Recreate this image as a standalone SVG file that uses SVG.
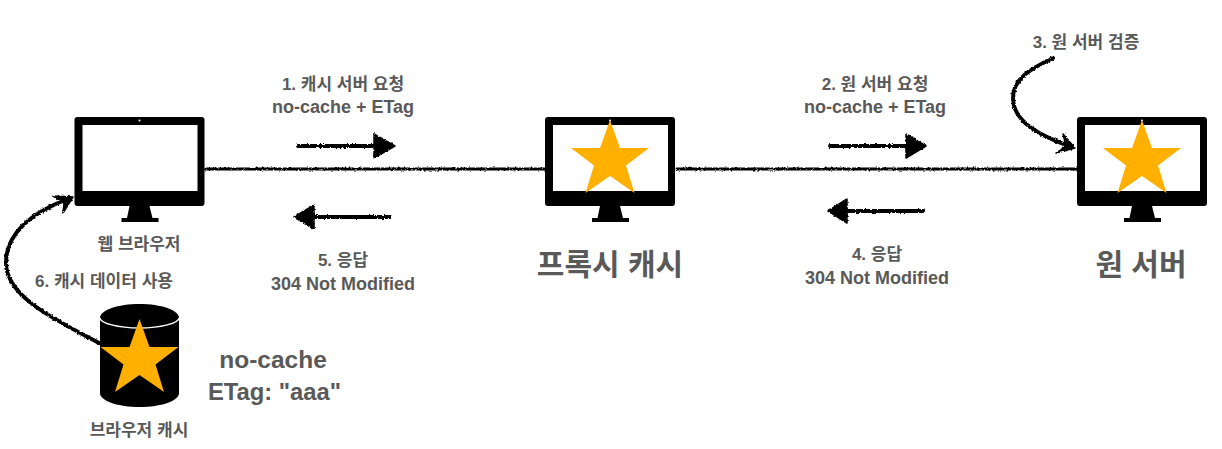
<svg xmlns="http://www.w3.org/2000/svg" width="1222" height="449" viewBox="0 0 1222 449">
<style>
text{font-family:"Liberation Sans","Noto Sans CJK KR",sans-serif;font-weight:700;fill:#595959;text-anchor:middle}
.s{font-size:17px}
.e{font-size:18px}
.m{font-size:24.500px}
.t{font-size:23.800px}
.l{font-size:30px}
.line{fill:none;stroke:#000;stroke-width:3;stroke-linecap:round;filter:url(#rough)}
.thick{stroke-width:4}
.head{fill:#000;stroke:#000;stroke-width:1.500;stroke-linejoin:round;filter:url(#rough)}
.star{fill:#ffb000}
</style>
<defs>
<filter id="rough" x="0" y="0" width="1222" height="449" filterUnits="userSpaceOnUse">
<feTurbulence type="fractalNoise" baseFrequency="0.45" numOctaves="2" seed="4"/>
<feDisplacementMap in="SourceGraphic" scale="3" xChannelSelector="R" yChannelSelector="G"/>
</filter>
<g id="monitor">
<rect x="0" y="0" width="130" height="89" rx="3" fill="#000"/>
<rect x="8" y="8" width="115" height="66" fill="#fff"/>
<circle cx="65" cy="3.600" r="1" fill="#fff"/>
<path d="M55 89H75L78 101H84V105H47V101H52.500Z" fill="#000"/>
</g>
<polygon id="star" class="star" points="0,0 10,28 39,28 16,45.500 24.500,73 0,56 -24.500,73 -16,45.500 -39,28 -10,28"/>
</defs>
<g id="connectors">
<path class="line" d="M206 169H545"/>
<path class="line" d="M677 169H1077"/>
<path class="line thick" d="M298 146H376"/>
<polygon class="head" points="374,134 395,146 374,158"/>
<path class="line thick" d="M390 217H312"/>
<polygon class="head" points="314,205 294,217 314,229"/>
<path class="line thick" d="M830 146H908"/>
<polygon class="head" points="906,134 926,146 906,158"/>
<path class="line thick" d="M923 211H845"/>
<polygon class="head" points="847,199 828,211 847,223"/>
<path class="line thick" d="M1053 58C1030 69 1013 79 1013 98C1013 122 1040 136 1072 147"/>
<path class="head" d="M1063 134L1075 148L1056 153L1066 146Z"/>
<path class="line thick" d="M101 344C60 322 6 298 6 263C6 230 38 210 70 198"/>
<path class="head" d="M53 196L73 197L63 213L64 203Z"/>
</g>
<g id="browser">
<use href="#monitor" x="74.500" y="117"/>
<text class="s" x="139" y="250">웹 브라우저</text>
</g>
<g id="proxy">
<use href="#monitor" x="545" y="117"/>
<use href="#star" x="610" y="120"/>
<text class="l" x="610" y="275">프록시 캐시</text>
</g>
<g id="origin">
<use href="#monitor" x="1077" y="117"/>
<use href="#star" x="1142" y="120"/>
<text class="l" x="1141" y="275">원 서버</text>
</g>
<g id="browser-cache">
<path d="M100 318C100 310 118 304 139.500 304C161 304 179 310 179 318V393C179 401 161 407 139.500 407C118 407 100 401 100 393Z" fill="#000"/>
<path d="M100 318C100 323 118 328 139.500 328C161 328 179 323 179 318" fill="none" stroke="#fff" stroke-width="1.500"/>
<use href="#star" x="139.500" y="319"/>
<text class="s" x="139" y="436">브라우저 캐시</text>
</g>
<g id="labels">
<text class="s" x="343" y="90">1. 캐시 서버 요청</text>
<text class="e" x="343" y="113">no-cache + ETag</text>
<text class="s" x="343" y="266">5. 응답</text>
<text class="e" x="343" y="290">304 Not Modified</text>
<text class="s" x="875" y="90">2. 원 서버 요청</text>
<text class="e" x="875" y="113">no-cache + ETag</text>
<text class="s" x="877" y="260">4. 응답</text>
<text class="e" x="877" y="284">304 Not Modified</text>
<text class="s" x="1086" y="48">3. 원 서버 검증</text>
<text class="s" x="104" y="287">6. 캐시 데이터 사용</text>
<text class="m" x="273" y="368">no-cache</text>
<text class="t" x="274.500" y="400">ETag: "aaa"</text>
</g>
</svg>
